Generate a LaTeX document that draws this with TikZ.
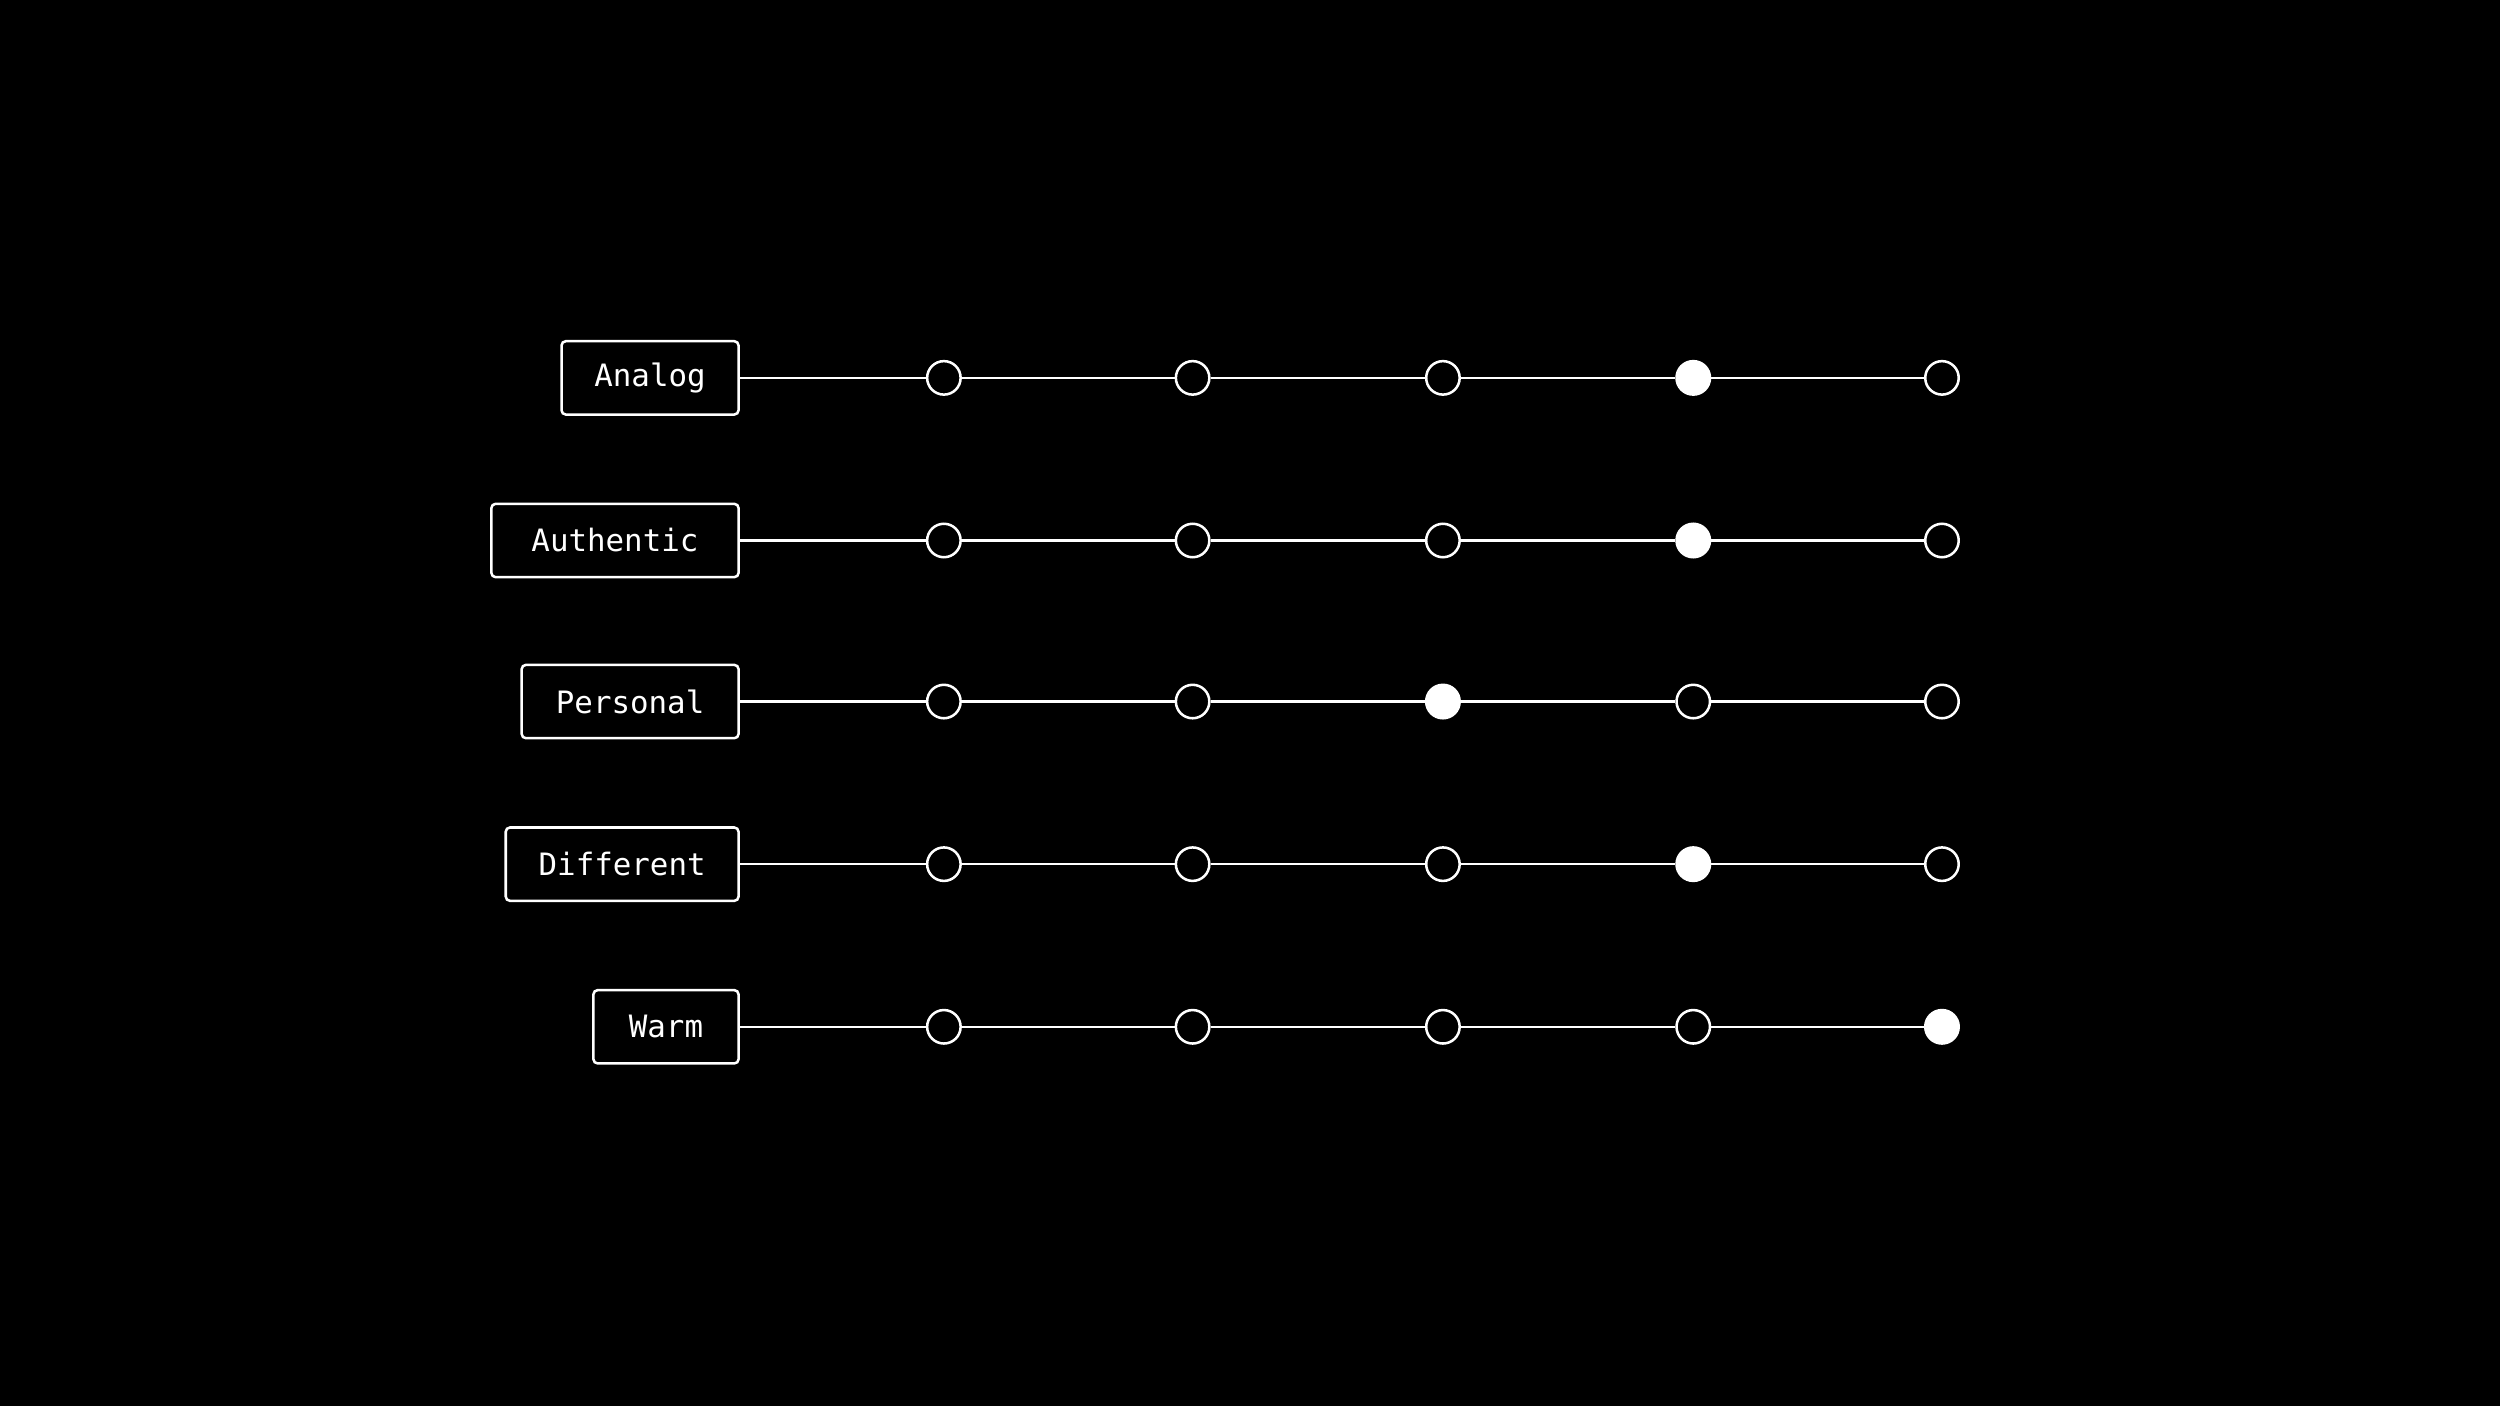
\documentclass[tikz,border=0pt]{standalone}
\usepackage{fontspec}
\setmonofont{DejaVu Sans Mono}
\begin{document}
\begin{tikzpicture}[x=0.02cm,y=-0.02cm,
  lab/.style={draw=white,line width=0.9pt,rounded corners=1.5pt,text=white,font=\ttfamily\fontsize{11}{13}\selectfont,minimum height=0.92cm,anchor=east,inner sep=0pt},
  dot/.style={circle,draw=white,line width=0.9pt,minimum size=0.42cm,inner sep=0pt,fill=black},
  full/.style={dot,fill=white},
  ln/.style={white,line width=0.9pt}]
\fill[black] (0,0) rectangle (1568,882);
\foreach \i/\name/\left/\y/\sel in {1/Analog/353/237/4,2/Authentic/309/339/4,3/Personal/328/440/3,4/Different/318/542/4,5/Warm/373/644/5}{
  \pgfmathsetmacro{\w}{(464-\left)*0.02}
  \node[lab,minimum width=\w cm] (b\i) at (464,\y) {\name};
  \foreach \j/\x in {1/592,2/748,3/905,4/1062,5/1218}{
    \ifnum\j=\sel
      \node[full] (c\i\j) at (\x,\y) {};
    \else
      \node[dot] (c\i\j) at (\x,\y) {};
    \fi
  }
  \draw[ln] (b\i.east) -- (c\i1) -- (c\i2) -- (c\i3) -- (c\i4) -- (c\i5);
}
\end{tikzpicture}
\end{document}
